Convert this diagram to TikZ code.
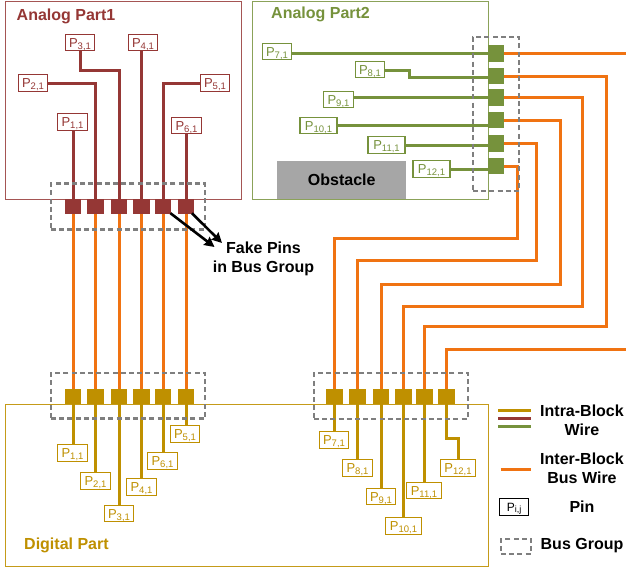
\documentclass[tikz,border=0pt]{standalone}
\usepackage{fontspec}
\setmainfont{Liberation Sans}
\usetikzlibrary{arrows.meta}
\definecolor{cbrown}{HTML}{953735}
\definecolor{cgreen}{HTML}{76923C}
\definecolor{cgold}{HTML}{BF9000}
\definecolor{corange}{HTML}{F07312}
\definecolor{cgrey}{HTML}{7F7F7F}
\definecolor{cobst}{HTML}{A6A6A6}
\newcommand{\pn}[1]{{\fontsize{13}{14}\selectfont P\raisebox{-2.2pt}{\fontsize{9.5}{10}\selectfont #1}}}
\tikzset{
  x=1pt,y=-1pt,
  block/.style={draw=#1,line width=1.3pt,fill=white,inner sep=0pt,anchor=north west},
  pinbox/.style={draw=#1,text=#1,line width=1.3pt,fill=white,inner sep=0pt,minimum height=16.5pt,minimum width=29.5pt,text height=9.3pt,text depth=0pt},
  widebox/.style={pinbox=#1,minimum width=35.5pt},
  pad/.style={fill=#1,inner sep=0pt,minimum width=16.5pt,minimum height=15pt},
  gpad/.style={fill=cgreen,inner sep=0pt,minimum width=16.5pt,minimum height=16.5pt},
  wire/.style={draw=#1,line width=3pt},
  buswire/.style={draw=corange,line width=3pt},
  busgroup/.style={draw=cgrey,line width=2.2pt,dash pattern=on 5pt off 3.2pt,inner sep=0pt,fill=none},
  title/.style={font=\fontsize{16}{18}\selectfont\bfseries,text=#1,inner sep=0pt},
  legendtext/.style={font=\fontsize{16}{19}\selectfont\bfseries,align=center,inner sep=0pt},
  fake/.style={draw=black,line width=2.6pt,-{Stealth[length=10pt,width=10pt,inset=1pt]}}
}
\begin{document}
\begin{tikzpicture}
\useasboundingbox (0,0) rectangle (626,570);
% blocks
\node[block=cbrown!85!white,minimum width=236pt,minimum height=198pt] (ap1) at (5,1) {};
\node[block=cgreen!85!white,minimum width=236pt,minimum height=198pt] (ap2) at (252,1) {};
\node[block=cgold!90!white,minimum width=483pt,minimum height=162.5pt] (dp) at (5,403.5) {};
\node[fill=cobst,inner sep=0pt,minimum width=129pt,minimum height=38pt,anchor=north west,font=\fontsize{16}{18}\selectfont\bfseries] (obs) at (277,161) {Obstacle};
\node[title=cbrown,anchor=west] (t1) at (16.5,16) {Analog Part1};
\node[title=cgreen,anchor=west] (t2) at (271,14.5) {Analog Part2};
\node[title=cgold,anchor=west] (t3) at (24,545) {Digital Part};
% top-left pads
\node[pad=cbrown] (a1) at (73,206.5) {};
\node[pad=cbrown] (a2) at (95.5,206.5) {};
\node[pad=cbrown] (a3) at (119,206.5) {};
\node[pad=cbrown] (a4) at (141.5,206.5) {};
\node[pad=cbrown] (a5) at (163,206.5) {};
\node[pad=cbrown] (a6) at (186,206.5) {};
% lower-left pads
\node[pad=cgold] (d1) at (73,396.2) {};
\node[pad=cgold] (d2) at (95.5,396.2) {};
\node[pad=cgold] (d3) at (119,396.2) {};
\node[pad=cgold] (d4) at (141.5,396.2) {};
\node[pad=cgold] (d5) at (163,396.2) {};
\node[pad=cgold] (d6) at (186,396.2) {};
% lower-right pads
\node[pad=cgold] (e7) at (334.5,396.2) {};
\node[pad=cgold] (e8) at (357.5,396.2) {};
\node[pad=cgold] (e9) at (381,396.2) {};
\node[pad=cgold] (e10) at (403.5,396.2) {};
\node[pad=cgold] (e11) at (424.5,396.2) {};
\node[pad=cgold] (e12) at (446.5,396.2) {};
% green pads
\node[gpad] (g7) at (496,53.5) {};
\node[gpad] (g8) at (496,76) {};
\node[gpad] (g9) at (496,97.5) {};
\node[gpad] (g10) at (496,120) {};
\node[gpad] (g11) at (496,143.5) {};
\node[gpad] (g12) at (496,166) {};
% free ends
\coordinate (r7) at (626,53.5);
\coordinate (r12) at (626,349.5);
\coordinate (c8) at (606.5,76);
\coordinate (c8b) at (606.5,326.5);
\coordinate (c9) at (582.7,97.5);
\coordinate (c9b) at (582.7,306.5);
\coordinate (c10) at (560,120);
\coordinate (c10b) at (560,284);
\coordinate (c11) at (536,143.5);
\coordinate (c11b) at (536,260.5);
\coordinate (c12) at (517.5,166);
\coordinate (c12b) at (517.5,238);
% inter-block bus wires
\foreach \i in {1,...,6}{\draw[buswire] (a\i.south) -- (d\i.north);}
\draw[buswire] (g7.east) -- (r7);
\draw[buswire] (r12) -- (r12 -| e12) -- (e12.north);
\draw[buswire] (g8.east) -- (c8) -- (c8b) -- (c8b -| e11) -- (e11.north);
\draw[buswire] (g9.east) -- (c9) -- (c9b) -- (c9b -| e10) -- (e10.north);
\draw[buswire] (g10.east) -- (c10) -- (c10b) -- (c10b -| e9) -- (e9.north);
\draw[buswire] (g11.east) -- (c11) -- (c11b) -- (c11b -| e8) -- (e8.north);
\draw[buswire] (g12.east) -- (c12) -- (c12b) -- (c12b -| e7) -- (e7.north);
% analog 1 labels
\node[pinbox=cbrown] (p1) at (72.5,122) {\pn{1,1}};
\node[pinbox=cbrown] (p2) at (33,83) {\pn{2,1}};
\node[pinbox=cbrown] (p3) at (80,42.5) {\pn{3,1}};
\node[pinbox=cbrown] (p4) at (143,42.5) {\pn{4,1}};
\node[pinbox=cbrown] (p5) at (215,83) {\pn{5,1}};
\node[pinbox=cbrown] (p6) at (186.5,125.5) {\pn{6,1}};
\coordinate (b3) at (80,70);
\draw[wire=cbrown] (p1.south -| a1) -- (a1.north);
\draw[wire=cbrown] (p2.east) -| (a2.north);
\draw[wire=cbrown] (p3.south) -- (b3) -| (a3.north);
\draw[wire=cbrown] (p4.south -| a4) -- (a4.north);
\draw[wire=cbrown] (p5.west) -| (a5.north);
\draw[wire=cbrown] (p6.south -| a6) -- (a6.north);
% analog 2 labels
\node[pinbox=cgreen] (p7) at (277,51.5) {\pn{7,1}};
\node[pinbox=cgreen] (p8) at (370,69.5) {\pn{8,1}};
\node[pinbox=cgreen] (p9) at (338.5,99.5) {\pn{9,1}};
\node[widebox=cgreen,minimum width=37pt] (p10) at (318.5,125.5) {\pn{10,1}};
\node[widebox=cgreen,minimum width=37pt] (p11) at (386.5,145) {\pn{11,1}};
\node[widebox=cgreen,minimum width=37pt] (p12) at (431.5,169) {\pn{12,1}};
\coordinate (j8) at (409,70);
\coordinate (j8b) at (409,77.5);
\draw[wire=cgreen] (p7.east |- g7) -- (g7.west);
\draw[wire=cgreen] (p8.east |- j8) -- (j8) -- (j8b) -- (j8b -| g8.west);
\draw[wire=cgreen] (p9.east |- g9) -- (g9.west);
\draw[wire=cgreen] (p10.east) -- (p10.east -| g10.west);
\draw[wire=cgreen] (p11.east) -- (p11.east -| g11.west);
\draw[wire=cgreen] (p12.east) -- (p12.east -| g12.west);
% digital labels left
\node[pinbox=cgold] (q1) at (72.5,453) {\pn{1,1}};
\node[pinbox=cgold] (q2) at (95.5,481) {\pn{2,1}};
\node[pinbox=cgold] (q3) at (119,513.5) {\pn{3,1}};
\node[pinbox=cgold] (q4) at (141.5,487) {\pn{4,1}};
\node[pinbox=cgold] (q5) at (185,434) {\pn{5,1}};
\node[pinbox=cgold] (q6) at (162.5,461) {\pn{6,1}};
\draw[wire=cgold] (d1.south) -- (q1.north -| d1);
\draw[wire=cgold] (d2.south) -- (q2.north -| d2);
\draw[wire=cgold] (d3.south) -- (q3.north -| d3);
\draw[wire=cgold] (d4.south) -- (q4.north -| d4);
\draw[wire=cgold] (d5.south) -- (q6.north -| d5);
\draw[wire=cgold] (d6.south) -- (q5.north -| d6);
% digital labels right
\node[pinbox=cgold] (q7) at (334,440) {\pn{7,1}};
\node[pinbox=cgold] (q8) at (357.5,468) {\pn{8,1}};
\node[pinbox=cgold] (q9) at (381,496.5) {\pn{9,1}};
\node[widebox=cgold] (q10) at (403.5,526) {\pn{10,1}};
\node[widebox=cgold] (q11) at (424,490.5) {\pn{11,1}};
\node[widebox=cgold] (q12) at (458,468) {\pn{12,1}};
\foreach \i in {7,...,11}{\draw[wire=cgold] (e\i.south) -- (q\i.north -| e\i);}
\coordinate (k12) at (446.5,438);
\draw[wire=cgold] (e12.south) -- (k12) -| (q12.north);
% bus groups
\node[busgroup,minimum width=154pt,minimum height=46pt] (bg1) at (128,206.5) {};
\node[busgroup,minimum width=154pt,minimum height=45.5pt] (bg2) at (128,395.8) {};
\node[busgroup,minimum width=154pt,minimum height=45.5pt] (bg3) at (391,396) {};
\node[busgroup,minimum width=46pt,minimum height=154pt] (bg4) at (496,114) {};
% redraw pads above groups
\foreach \i in {1,...,6}{\fill[cbrown] (a\i.south west) rectangle (a\i.north east);\fill[cgold] (d\i.south west) rectangle (d\i.north east);}
\foreach \i in {7,...,12}{\fill[cgreen] (g\i.south west) rectangle (g\i.north east);\fill[cgold] (e\i.south west) rectangle (e\i.north east);}
% fake pins
\node[legendtext] (ft) at (263.5,258.5) {Fake Pins\\in Bus Group};
\coordinate (f1) at (214.5,247);
\coordinate (f2) at (222,243);
\draw[fake] ([xshift=-1pt,yshift=1pt]a5.south east) -- (f1);
\draw[fake] ([xshift=-2.5pt,yshift=1pt]a6.south east) -- (f2);
% legend
\coordinate (l1a) at (498,410); \coordinate (l1b) at (530.5,410);
\coordinate (l2a) at (498,418); \coordinate (l2b) at (530.5,418);
\coordinate (l3a) at (498,426.5); \coordinate (l3b) at (530.5,426.5);
\coordinate (l4a) at (500.5,469); \coordinate (l4b) at (530.5,469);
\draw[wire=cgold] (l1a) -- (l1b);
\draw[wire=cbrown] (l2a) -- (l2b);
\draw[wire=cgreen] (l3a) -- (l3b);
\draw[buswire] (l4a) -- (l4b);
\node[legendtext] (lt1) at (582,420.5) {Intra-Block\\Wire};
\node[legendtext] (lt2) at (582,468.5) {Inter-Block\\Bus Wire};
\node[draw=black,line width=1.3pt,inner sep=0pt,minimum width=29.5pt,minimum height=16.5pt,fill=white,text height=8.6pt,text depth=0pt] (lp) at (514,507) {\fontsize{12}{13}\selectfont P\raisebox{-1.5pt}{\fontsize{9}{9}\selectfont i,j}};
\node[legendtext] (lt3) at (582,506.5) {Pin};
\node[busgroup,minimum width=30pt,minimum height=15pt] (lb) at (516,546.5) {};
\node[legendtext] (lt4) at (582,545.5) {Bus Group};
\end{tikzpicture}
\end{document}
